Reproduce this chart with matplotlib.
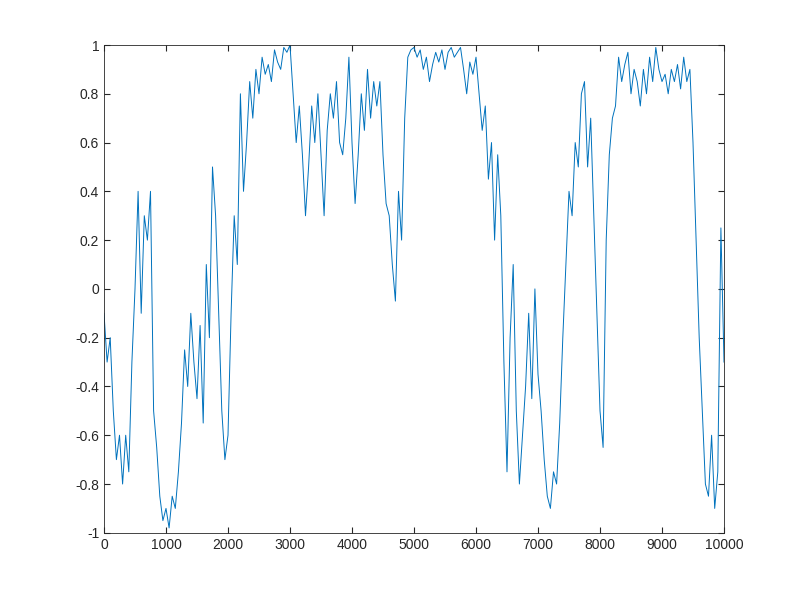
import matplotlib
matplotlib.use('Agg')
import matplotlib.pyplot as plt
import numpy as np

plt.rcParams['font.family'] = ['Liberation Sans', 'DejaVu Sans']

# values every 50 steps
step = 50
values = [
    -0.1, -0.3, -0.2, -0.5, -0.7, -0.6, -0.8, -0.6, -0.75, -0.3,
    0.0, 0.4, -0.1, 0.3, 0.2, 0.4, -0.5, -0.65, -0.85, -0.95,
    -0.9, -0.98, -0.85, -0.9, -0.75, -0.55, -0.25, -0.4, -0.1, -0.3,
    -0.45, -0.15, -0.55, 0.1, -0.2, 0.5, 0.3, -0.1, -0.5, -0.7,
    -0.6, -0.1, 0.3, 0.1, 0.8, 0.4, 0.6, 0.85, 0.7, 0.9,
    0.8, 0.95, 0.88, 0.92, 0.85, 0.98, 0.93, 0.9, 0.99, 0.97,
    1.0, 0.8, 0.6, 0.75, 0.55, 0.3, 0.5, 0.75, 0.6, 0.8,
    0.55, 0.3, 0.65, 0.8, 0.7, 0.85, 0.6, 0.55, 0.7, 0.95,
    0.6, 0.35, 0.55, 0.8, 0.65, 0.9, 0.7, 0.85, 0.75, 0.85,
    0.55, 0.35, 0.3, 0.1, -0.05, 0.4, 0.2, 0.7, 0.95, 0.98,
    0.99, 0.95, 0.98, 0.9, 0.95, 0.85, 0.92, 0.97, 0.93, 0.98,
    0.9, 0.97, 0.99, 0.95, 0.97, 0.99, 0.9, 0.8, 0.93, 0.88,
    0.95, 0.8, 0.65, 0.75, 0.45, 0.6, 0.2, 0.55, 0.3, -0.3,
    -0.75, -0.2, 0.1, -0.5, -0.8, -0.6, -0.4, -0.1, -0.45, 0.0,
    -0.35, -0.5, -0.7, -0.85, -0.9, -0.75, -0.8, -0.55, -0.2, 0.1,
    0.4, 0.3, 0.6, 0.5, 0.8, 0.85, 0.5, 0.7, 0.3, -0.1,
    -0.5, -0.65, 0.2, 0.55, 0.7, 0.75, 0.95, 0.85, 0.92, 0.97,
    0.8, 0.9, 0.85, 0.75, 0.9, 0.8, 0.95, 0.85, 0.99, 0.9,
    0.85, 0.88, 0.8, 0.9, 0.85, 0.92, 0.82, 0.95, 0.85, 0.9,
    0.6, 0.2, -0.2, -0.5, -0.8, -0.85, -0.6, -0.9, -0.75, 0.25,
    -0.3,
]
x = np.arange(len(values)) * step

fig = plt.figure(figsize=(8, 6), dpi=100)
ax = fig.add_axes([0.13, 0.112, 0.775, 0.813])
ax.plot(x, values, color='#0072BD', linewidth=0.7)
ax.set_xlim(0, 10000)
ax.set_ylim(-1, 1)
ax.set_xticks(np.arange(0, 10001, 1000))
ax.set_yticks(np.arange(-1, 1.01, 0.2))
ax.set_yticklabels(['-1', '-0.8', '-0.6', '-0.4', '-0.2', '0', '0.2', '0.4', '0.6', '0.8', '1'])
ax.tick_params(direction='in', top=True, right=True, labelsize=10, length=4,
               colors='#262626')
for s in ax.spines.values():
    s.set_linewidth(0.6)
    s.set_color('#262626')
fig.savefig('out.png')
